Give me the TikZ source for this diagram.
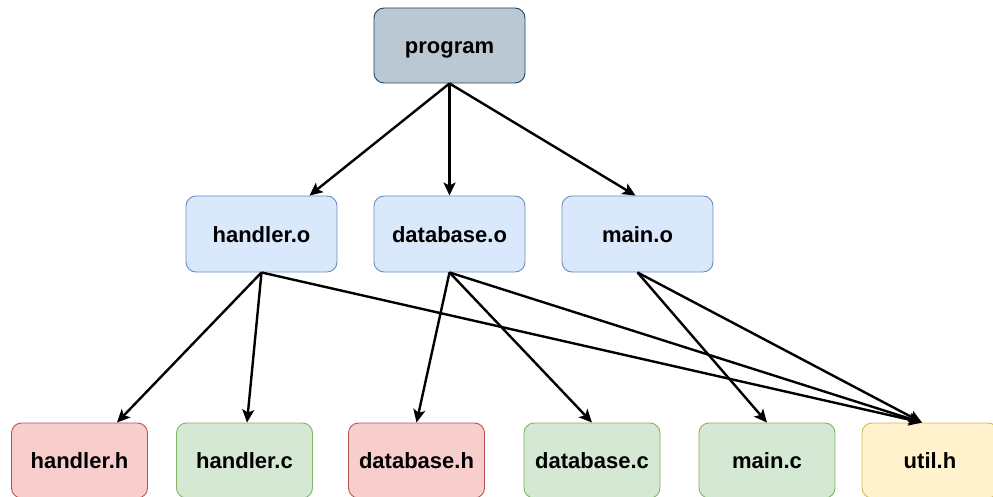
\documentclass[tikz,border=0pt]{standalone}
\usepackage{fontspec}
\setmainfont{Liberation Sans}
\usetikzlibrary{arrows.meta}

\definecolor{progfill}{HTML}{BAC8D3}
\definecolor{progline}{HTML}{23445D}
\definecolor{objfill}{HTML}{DAE8FC}
\definecolor{objline}{HTML}{6C8EBF}
\definecolor{hdrfill}{HTML}{F8CECC}
\definecolor{hdrline}{HTML}{B85450}
\definecolor{srcfill}{HTML}{D5E8D4}
\definecolor{srcline}{HTML}{82B366}
\definecolor{utilfill}{HTML}{FFF2CC}
\definecolor{utilline}{HTML}{D6B656}

\tikzset{
  box/.style={draw, rounded corners=10pt, line width=0.9pt, inner sep=0pt,
    text height=16pt, text depth=0pt,
    font=\fontsize{22}{26}\selectfont\bfseries},
  progbox/.style={box, fill=progfill, draw=progline, minimum width=151pt, minimum height=75pt},
  objbox/.style={box, fill=objfill, draw=objline, minimum width=151pt, minimum height=76pt},
  hdrbox/.style={box, fill=hdrfill, draw=hdrline, minimum width=136pt, minimum height=75pt},
  srcbox/.style={box, fill=srcfill, draw=srcline, minimum width=136pt, minimum height=75pt},
  utilbox/.style={box, fill=utilfill, draw=utilline, minimum width=136pt, minimum height=75pt},
  dep/.style={line width=2.4pt, -{Stealth[length=13pt, width=12pt, inset=3pt]}},
}

\begin{document}
\begin{tikzpicture}[x=1pt, y=1pt]
  \useasboundingbox (0,0) rectangle (993,-497);

  % top level target
  \node[progbox] (program) at (449.5,-45.5) {program};

  % object files
  \node[objbox] (handlero)  at (261.5,-234) {handler.o};
  \node[objbox] (databaseo) at (449.5,-234) {database.o};
  \node[objbox] (maino)     at (637.5,-234) {main.o};

  % sources and headers
  \node[hdrbox]  (handlerh)  at (79.5,-460.5)  {handler.h};
  \node[srcbox]  (handlerc)  at (244.5,-460.5) {handler.c};
  \node[hdrbox]  (databaseh) at (416.5,-460.5) {database.h};
  \node[srcbox]  (databasec) at (592,-460.5)   {database.c};
  \node[srcbox]  (mainc)     at (767,-460.5)   {main.c};
  \node[utilbox] (utilh)     at (930,-460.5)   {util.h};

  % program depends on objects
  \draw[dep] (program.south) -- ([xshift=48pt]handlero.north);
  \draw[dep] (program.south) -- (databaseo.north);
  \draw[dep] (program.south) -- ([xshift=-2pt]maino.north);

  % handler.o
  \draw[dep] (handlero.south) -- ([xshift=37.5pt]handlerh.north);
  \draw[dep] (handlero.south) -- ([xshift=2.5pt]handlerc.north);
  \draw[dep] (handlero.south) -- ([xshift=-8pt]utilh.north);

  % database.o
  \draw[dep] (databaseo.south) -- (databaseh.north);
  \draw[dep] (databaseo.south) -- (databasec.north);
  \draw[dep] (databaseo.south) -- ([xshift=-8pt]utilh.north);

  % main.o
  \draw[dep] (maino.south) -- (mainc.north);
  \draw[dep] (maino.south) -- ([xshift=-8pt]utilh.north);
\end{tikzpicture}
\end{document}
